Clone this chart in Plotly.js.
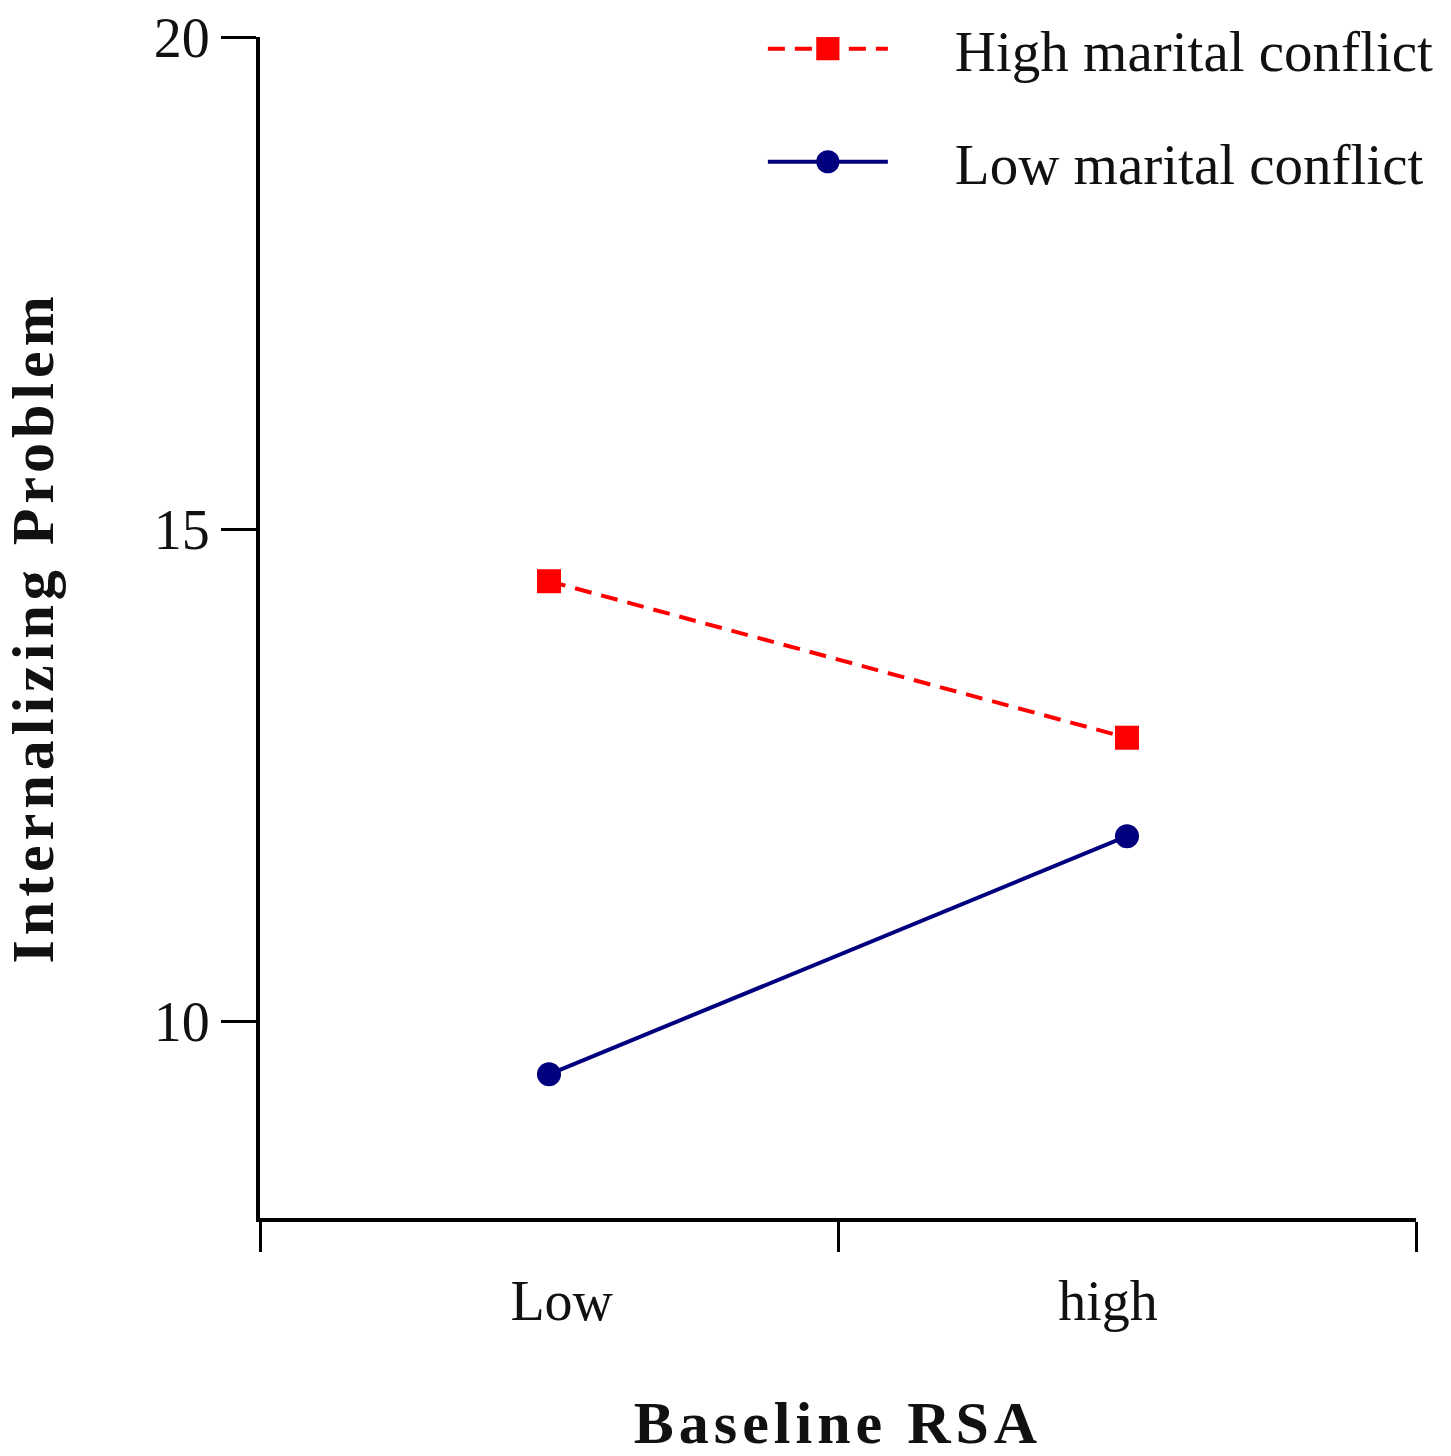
<!DOCTYPE html>
<html>
<head>
<meta charset="utf-8">
<script src="https://cdn.plot.ly/plotly-3.0.1.min.js"></script>
<style>
html,body{margin:0;padding:0;background:#fff;}
.g-ytitle text,.g-xtitle text{letter-spacing:5px;}
</style>
</head>
<body>
<div id="chart" style="width:1451px;height:1456px;"></div>
<script>
// Data
var categories = ['Low', 'high'];
var categoryPos = [0.5, 1.5];
var highConflict = [14.47, 12.88];
var lowConflict = [9.46, 11.88];
var seriesNames = ['High marital conflict', 'Low marital conflict'];
var yTicks = [10, 15, 20];

var serif = '"Liberation Serif", "Times New Roman", serif';

var traces = [
  {
    x: categoryPos, y: highConflict, name: seriesNames[0],
    type: 'scatter', mode: 'lines+markers', legendgroup: 'a',
    line: {color: '#ff0000', width: 4, dash: '17px,10px'},
    marker: {symbol: 'square', size: 24, color: '#ff0000'}
  },
  {
    x: categoryPos, y: lowConflict, name: seriesNames[1],
    type: 'scatter', mode: 'lines+markers', legendgroup: 'b',
    line: {color: '#00007f', width: 4},
    marker: {symbol: 'circle', size: 24, color: '#00007f'}
  },
  {
    // carrier trace for the category labels axis
    x: categoryPos, y: [null, null], xaxis: 'x2', yaxis: 'y',
    type: 'scatter', mode: 'markers', showlegend: false, hoverinfo: 'skip'
  }
];

var layout = {
  width: 1451, height: 1456,
  margin: {l: 260, r: 35, t: 37, b: 238, autoexpand: false},
  paper_bgcolor: '#fff', plot_bgcolor: '#fff',
  font: {family: serif, size: 56, color: '#111'},
  showlegend: true,
  legend: {
    x: 0.435, xanchor: 'left', y: 1.027, yanchor: 'top',
    bgcolor: 'rgba(0,0,0,0)', font: {family: serif, size: 57, color: '#111'},
    tracegroupgap: 36, itemwidth: 120, traceorder: 'grouped'
  },
  xaxis: {
    range: [0, 2], tickvals: [0, 1, 2], showticklabels: false,
    ticks: 'outside', ticklen: 30, tickwidth: 3, tickcolor: '#000',
    showline: true, linewidth: 4, linecolor: '#000',
    showgrid: false, zeroline: false, fixedrange: true,
    title: {text: 'Baseline RSA', font: {family: serif, size: 60, weight: 'bold', color: '#111'}, standoff: 200}
  },
  xaxis2: {
    overlaying: 'x', anchor: 'y', side: 'bottom',
    range: [0, 2], tickmode: 'array', tickvals: [0.522, 1.467], ticktext: categories,
    ticks: '', showline: false, showgrid: false, zeroline: false,
    ticklabelstandoff: 45,
    tickfont: {family: serif, size: 56, color: '#111'}
  },
  yaxis: {
    range: [8, 20], tickvals: yTicks,
    ticks: 'outside', ticklen: 35, tickwidth: 3, tickcolor: '#000',
    showline: true, linewidth: 4, linecolor: '#000',
    showgrid: false, zeroline: false, fixedrange: true,
    tickfont: {family: serif, size: 56, color: '#111'},
    title: {text: 'Internalizing Problem', font: {family: serif, size: 60, weight: 'bold', color: '#111'}, standoff: 85}
  }
};

Plotly.newPlot('chart', traces, layout, {displayModeBar: false, staticPlot: true}).then(function (gd) {
  // no clipping of the legend, so the text can sit further from its symbol
  gd.querySelectorAll('.legend, .legend [clip-path]').forEach(function (e) {
    e.removeAttribute('clip-path');
  });
  // widen the gap between legend symbol and legend text, as in the reference
  gd.querySelectorAll('.legend .legendtext').forEach(function (t) {
    var x = parseFloat(t.getAttribute('x')) || 0;
    t.setAttribute('x', x + 62);
  });
  // larger legend markers, as in the reference
  gd.querySelectorAll('.legend .legendpoints path.scatterpts').forEach(function (p) {
    var tr = p.getAttribute('transform') || '';
    p.setAttribute('transform', tr + ' scale(1.45)');
  });
});
</script>
</body>
</html>
